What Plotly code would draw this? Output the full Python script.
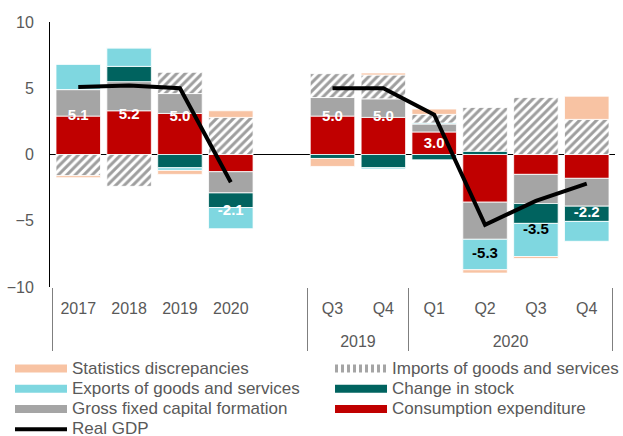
import plotly.graph_objects as go

# ---- data ----
outer_labels = [" ", " ", " ", " ", " ", "2019", "2019", "2020", "2020", "2020", "2020"]
inner_labels = ["2017", "2018", "2019", "2020",
                "<span style='font-size:37px'>&nbsp;</span>",
                "Q3", "Q4", "Q1", "Q2", "<span>Q3</span>", "<span>Q4</span>"]

consumption = [2.9, 3.3, 3.1, -1.3, None, 2.9, 2.8, 1.7, -3.6, -1.5, -1.8]
gfcf = [2.0, 2.2, 1.5, -1.6, None, 1.4, 1.4, 0.6, -2.8, -2.2, -2.1]
stock = [0.0, 1.15, -1.0, -1.1, None, -0.3, -1.0, -0.4, 0.25, -1.5, -1.15]
exports = [1.9, 1.4, -0.2, -1.6, None, 0.0, -0.1, 0.08, -2.3, -2.5, -1.5]
imports = [-1.6, -2.4, 1.6, 2.8, None, 1.8, 1.8, 0.65, 3.3, 4.3, 2.65]
stat_disc = [-0.15, 0.0, -0.3, 0.5, None, -0.6, 0.15, 0.4, -0.25, -0.15, 1.75]
real_gdp = [5.1, 5.2, 5.0, -2.1, None, 5.0, 5.0, 3.0, -5.3, -3.5, -2.2]
label_dark = [False, False, False, False, False, False, False, False, True, True, False]

series = [
    ("Consumption expenditure", consumption, "#C00000"),
    ("Gross fixed capital formation", gfcf, "#A5A5A5"),
    ("Change in stock", stock, "#00635F"),
    ("Exports of goods and services", exports, "#7FD7E0"),
    ("Imports of goods and services", imports, "#A5A5A5"),
    ("Statistics discrepancies", stat_disc, "#F8C3A3"),
]
# legend column / rank for each entry
legend_slot = {
    "Statistics discrepancies": ("legend", 1),
    "Exports of goods and services": ("legend", 2),
    "Gross fixed capital formation": ("legend", 3),
    "Real GDP": ("legend", 4),
    "Imports of goods and services": ("legend2", 1),
    "Change in stock": ("legend2", 2),
    "Consumption expenditure": ("legend2", 3),
}

FONT = "Liberation Sans, Arial, sans-serif"
GREY_TXT = "#595959"
LEG_TXT = "<span style='font-size:17px'>{}</span>"
x = [outer_labels, inner_labels]

fig = go.Figure()
for name, vals, color in series:
    marker = dict(color=color, line=dict(color="white", width=0.8))
    if name.startswith("Imports"):
        marker["pattern"] = dict(shape="/", fgcolor="#9E9E9E", bgcolor="white",
                                 size=6, solidity=0.5, fillmode="replace")
    fig.add_trace(go.Bar(x=x, y=vals, name=name, marker=marker,
                         showlegend=False, legendgroup=name, hoverinfo="skip"))

# legend proxies (wide rectangular symbols)
for name, vals, color in series:
    line = dict(color=color, width=8)
    if name.startswith("Imports"):
        line["dash"] = "3px,3px"
    leg, rank = legend_slot[name]
    fig.add_trace(go.Scatter(x=[None], y=[None], mode="lines", name=LEG_TXT.format(name),
                             line=line, legendgroup=name, legend=leg, legendrank=rank))

leg, rank = legend_slot["Real GDP"]
fig.add_trace(go.Scatter(x=x, y=real_gdp, mode="lines", name=LEG_TXT.format("Real GDP"),
                         line=dict(color="black", width=4), connectgaps=False,
                         legend=leg, legendrank=rank, hoverinfo="skip"))

label_offset = 2.2
label_y = [None if v is None else v - label_offset for v in real_gdp]
label_txt = ["" if v is None else f"{v:.1f}" for v in real_gdp]
label_col = ["black" if d else "white" for d in label_dark]
fig.add_trace(go.Scatter(x=x, y=label_y, mode="text", text=label_txt,
                         textfont=dict(family=FONT, size=15, color=label_col, weight="bold"),
                         showlegend=False, hoverinfo="skip", cliponaxis=False))

legend_common = dict(orientation="v", yanchor="top", y=-0.25, xanchor="left",
                     itemwidth=52, tracegroupgap=0, bgcolor="rgba(0,0,0,0)",
                     font=dict(family=FONT, size=13.3, color=GREY_TXT))
fig.update_layout(
    width=623, height=436,
    margin=dict(l=50, r=8, t=22, b=149, autoexpand=False),
    barmode="relative", bargap=0.125,
    plot_bgcolor="white", paper_bgcolor="white",
    font=dict(family=FONT, size=16, color=GREY_TXT),
    showlegend=True,
    legend=dict(x=-0.0708, **legend_common),
    legend2=dict(x=0.4956, **legend_common),
)
fig.update_yaxes(range=[-10, 10], dtick=5, showgrid=False, zeroline=True,
                 zerolinecolor="black", zerolinewidth=1, showline=True,
                 linecolor="black", linewidth=1, ticks="", ticklabelstandoff=12,
                 tickfont=dict(family=FONT, size=16, color=GREY_TXT))
fig.update_xaxes(type="multicategory", showgrid=False, showline=False, ticks="",
                 ticklabelstandoff=10,
                 showdividers=True, dividercolor="#7F7F7F", dividerwidth=1,
                 tickfont=dict(family=FONT, size=16, color=GREY_TXT))

fig.write_html("out.html", config={"displayModeBar": False},
               post_script="document.body.style.margin='0';")
